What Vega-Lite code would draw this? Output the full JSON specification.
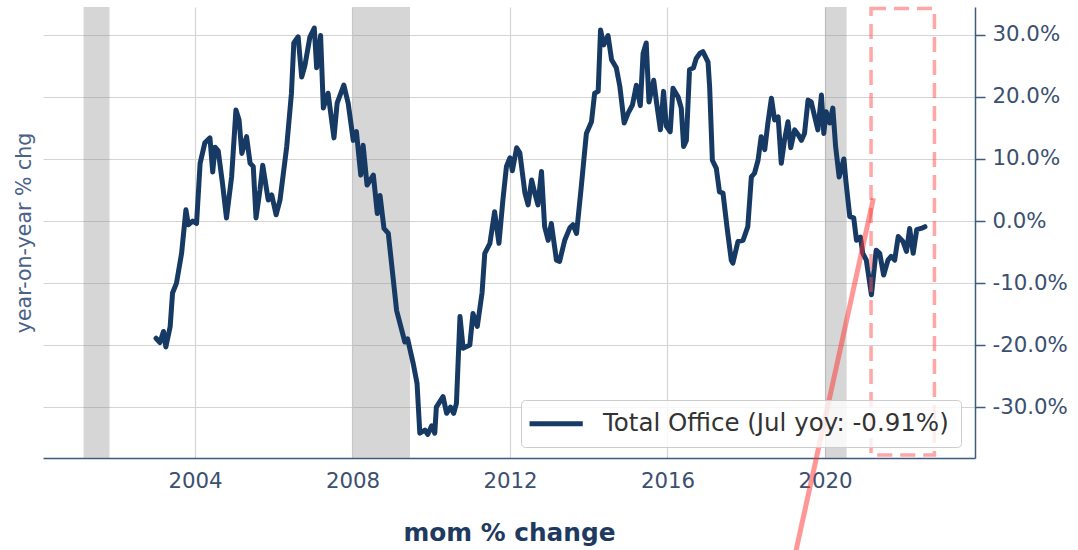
{
  "$schema": "https://vega.github.io/schema/vega-lite/v6.json",
  "width": 932,
  "height": 451,
  "autosize": "none",
  "padding": {"left": 43, "top": 7, "right": 103, "bottom": 92},
  "background": "white",
  "config": {
    "view": {"stroke": null},
    "font": "DejaVu Sans",
    "axisX": {
      "ticks": false,
      "labelPadding": 12, "labelFontSize": 21.3, "labelColor": "#3b5070",
      "domainColor": "#3d5a80", "domainWidth": 1.5,
      "grid": true, "gridColor": "#d4d4d4", "gridWidth": 1.2,
      "titleFontSize": 24.8, "titleFontWeight": "bold",
      "titleColor": "#1f3a60", "titlePadding": 29
    }
  },
  "datasets": {
    "recessions": [
      {"start": 2001.17, "end": 2001.83},
      {"start": 2008.0, "end": 2009.46},
      {"start": 2020.0, "end": 2020.55}
    ],
    "box": [{"x1": 2021.17, "x2": 2022.78, "top": 34.26, "bottom": -37.7}],
    "arrow": [{"x1": 2019.21, "y1": -54.7, "x2": 2021.23, "y2": 3.66}],
    "office": [
      {"year": 2003.01, "yoy": -18.9}, {"year": 2003.11, "yoy": -19.6}, {"year": 2003.2, "yoy": -17.8},
      {"year": 2003.26, "yoy": -20.3}, {"year": 2003.37, "yoy": -17.0}, {"year": 2003.43, "yoy": -11.6},
      {"year": 2003.53, "yoy": -10.0}, {"year": 2003.66, "yoy": -5.2}, {"year": 2003.77, "yoy": 1.8},
      {"year": 2003.83, "yoy": -0.6}, {"year": 2003.94, "yoy": 0.0}, {"year": 2004.04, "yoy": -0.4},
      {"year": 2004.13, "yoy": 9.3}, {"year": 2004.25, "yoy": 12.6}, {"year": 2004.38, "yoy": 13.4},
      {"year": 2004.45, "yoy": 7.9}, {"year": 2004.51, "yoy": 11.9}, {"year": 2004.59, "yoy": 11.3},
      {"year": 2004.7, "yoy": 6.0}, {"year": 2004.8, "yoy": 0.5}, {"year": 2004.93, "yoy": 7.1},
      {"year": 2005.04, "yoy": 17.9}, {"year": 2005.12, "yoy": 16.3}, {"year": 2005.19, "yoy": 10.9},
      {"year": 2005.31, "yoy": 13.6}, {"year": 2005.4, "yoy": 9.3}, {"year": 2005.48, "yoy": 8.8},
      {"year": 2005.55, "yoy": 0.5}, {"year": 2005.65, "yoy": 5.0}, {"year": 2005.72, "yoy": 9.0},
      {"year": 2005.86, "yoy": 3.4}, {"year": 2005.95, "yoy": 4.2}, {"year": 2006.06, "yoy": 1.0},
      {"year": 2006.16, "yoy": 3.4}, {"year": 2006.33, "yoy": 12.0}, {"year": 2006.45, "yoy": 20.6},
      {"year": 2006.51, "yoy": 28.7}, {"year": 2006.62, "yoy": 29.7}, {"year": 2006.71, "yoy": 23.2},
      {"year": 2006.79, "yoy": 25.0}, {"year": 2006.92, "yoy": 29.7}, {"year": 2007.03, "yoy": 31.1},
      {"year": 2007.09, "yoy": 24.7}, {"year": 2007.19, "yoy": 29.9}, {"year": 2007.26, "yoy": 18.2},
      {"year": 2007.38, "yoy": 20.6}, {"year": 2007.53, "yoy": 13.4}, {"year": 2007.61, "yoy": 19.0},
      {"year": 2007.78, "yoy": 21.9}, {"year": 2007.89, "yoy": 19.0}, {"year": 2008.02, "yoy": 13.0},
      {"year": 2008.1, "yoy": 14.4}, {"year": 2008.21, "yoy": 7.4}, {"year": 2008.27, "yoy": 12.2},
      {"year": 2008.37, "yoy": 5.8}, {"year": 2008.53, "yoy": 7.4}, {"year": 2008.63, "yoy": 1.2},
      {"year": 2008.7, "yoy": 4.1}, {"year": 2008.8, "yoy": -1.2}, {"year": 2008.91, "yoy": -2.0},
      {"year": 2009.12, "yoy": -14.4}, {"year": 2009.33, "yoy": -19.5}, {"year": 2009.4, "yoy": -19.0},
      {"year": 2009.54, "yoy": -22.9}, {"year": 2009.64, "yoy": -26.2}, {"year": 2009.71, "yoy": -34.2},
      {"year": 2009.84, "yoy": -33.7}, {"year": 2009.91, "yoy": -34.4}, {"year": 2010.01, "yoy": -33.0},
      {"year": 2010.09, "yoy": -34.2}, {"year": 2010.13, "yoy": -30.0}, {"year": 2010.3, "yoy": -28.3},
      {"year": 2010.39, "yoy": -31.0}, {"year": 2010.49, "yoy": -30.0}, {"year": 2010.57, "yoy": -31.0},
      {"year": 2010.64, "yoy": -29.4}, {"year": 2010.73, "yoy": -15.4}, {"year": 2010.81, "yoy": -20.5},
      {"year": 2010.98, "yoy": -20.0}, {"year": 2011.06, "yoy": -14.9}, {"year": 2011.17, "yoy": -17.0},
      {"year": 2011.29, "yoy": -11.6}, {"year": 2011.36, "yoy": -5.2}, {"year": 2011.49, "yoy": -3.6},
      {"year": 2011.61, "yoy": 1.5}, {"year": 2011.72, "yoy": -3.6}, {"year": 2011.82, "yoy": 3.4},
      {"year": 2011.91, "yoy": 8.8}, {"year": 2012.0, "yoy": 10.2}, {"year": 2012.06, "yoy": 8.1},
      {"year": 2012.17, "yoy": 11.8}, {"year": 2012.25, "yoy": 11.0}, {"year": 2012.38, "yoy": 4.5},
      {"year": 2012.46, "yoy": 2.6}, {"year": 2012.55, "yoy": 6.6}, {"year": 2012.63, "yoy": 4.5},
      {"year": 2012.71, "yoy": 2.6}, {"year": 2012.8, "yoy": 8.0}, {"year": 2012.88, "yoy": -0.9},
      {"year": 2012.97, "yoy": -3.1}, {"year": 2013.05, "yoy": -0.4}, {"year": 2013.18, "yoy": -6.3},
      {"year": 2013.26, "yoy": -6.5}, {"year": 2013.39, "yoy": -3.1}, {"year": 2013.52, "yoy": -1.1},
      {"year": 2013.6, "yoy": -0.6}, {"year": 2013.69, "yoy": -2.0}, {"year": 2013.81, "yoy": 5.5},
      {"year": 2013.94, "yoy": 14.1}, {"year": 2014.07, "yoy": 16.0}, {"year": 2014.15, "yoy": 20.6},
      {"year": 2014.24, "yoy": 20.9}, {"year": 2014.3, "yoy": 30.8}, {"year": 2014.38, "yoy": 28.4},
      {"year": 2014.49, "yoy": 29.9}, {"year": 2014.58, "yoy": 26.0}, {"year": 2014.7, "yoy": 24.7},
      {"year": 2014.79, "yoy": 21.7}, {"year": 2014.9, "yoy": 15.8}, {"year": 2015.0, "yoy": 17.4},
      {"year": 2015.11, "yoy": 18.7}, {"year": 2015.21, "yoy": 21.9}, {"year": 2015.31, "yoy": 18.6},
      {"year": 2015.38, "yoy": 27.0}, {"year": 2015.46, "yoy": 28.7}, {"year": 2015.53, "yoy": 19.2},
      {"year": 2015.65, "yoy": 22.7}, {"year": 2015.72, "yoy": 19.2}, {"year": 2015.82, "yoy": 14.7},
      {"year": 2015.9, "yoy": 20.9}, {"year": 2015.97, "yoy": 15.3}, {"year": 2016.07, "yoy": 14.4},
      {"year": 2016.14, "yoy": 21.4}, {"year": 2016.27, "yoy": 20.0}, {"year": 2016.35, "yoy": 18.2},
      {"year": 2016.41, "yoy": 12.0}, {"year": 2016.48, "yoy": 13.0}, {"year": 2016.56, "yoy": 24.4},
      {"year": 2016.66, "yoy": 24.7}, {"year": 2016.73, "yoy": 26.2}, {"year": 2016.82, "yoy": 27.0},
      {"year": 2016.9, "yoy": 27.3}, {"year": 2017.03, "yoy": 25.6}, {"year": 2017.07, "yoy": 21.7},
      {"year": 2017.14, "yoy": 9.8}, {"year": 2017.24, "yoy": 8.5}, {"year": 2017.32, "yoy": 4.7},
      {"year": 2017.41, "yoy": 4.5}, {"year": 2017.51, "yoy": -0.9}, {"year": 2017.62, "yoy": -6.3},
      {"year": 2017.66, "yoy": -6.8}, {"year": 2017.79, "yoy": -3.3}, {"year": 2017.92, "yoy": -3.1},
      {"year": 2018.04, "yoy": -0.9}, {"year": 2018.13, "yoy": 7.1}, {"year": 2018.21, "yoy": 7.7},
      {"year": 2018.3, "yoy": 9.8}, {"year": 2018.38, "yoy": 13.6}, {"year": 2018.47, "yoy": 11.5},
      {"year": 2018.55, "yoy": 15.8}, {"year": 2018.64, "yoy": 19.8}, {"year": 2018.72, "yoy": 16.3},
      {"year": 2018.81, "yoy": 16.8}, {"year": 2018.89, "yoy": 9.3}, {"year": 2018.97, "yoy": 13.0},
      {"year": 2019.06, "yoy": 16.0}, {"year": 2019.13, "yoy": 11.8}, {"year": 2019.23, "yoy": 14.7},
      {"year": 2019.32, "yoy": 13.9}, {"year": 2019.4, "yoy": 13.0}, {"year": 2019.48, "yoy": 14.1},
      {"year": 2019.57, "yoy": 19.5}, {"year": 2019.65, "yoy": 19.2}, {"year": 2019.74, "yoy": 16.8},
      {"year": 2019.82, "yoy": 14.7}, {"year": 2019.91, "yoy": 20.3}, {"year": 2019.97, "yoy": 14.1},
      {"year": 2020.03, "yoy": 17.6}, {"year": 2020.12, "yoy": 15.8}, {"year": 2020.2, "yoy": 18.2},
      {"year": 2020.27, "yoy": 12.0}, {"year": 2020.36, "yoy": 7.1}, {"year": 2020.48, "yoy": 10.0},
      {"year": 2020.53, "yoy": 6.5}, {"year": 2020.63, "yoy": 0.7}, {"year": 2020.73, "yoy": 0.5},
      {"year": 2020.8, "yoy": -3.1}, {"year": 2020.9, "yoy": -2.6}, {"year": 2020.96, "yoy": -5.2},
      {"year": 2021.05, "yoy": -6.3}, {"year": 2021.18, "yoy": -11.9}, {"year": 2021.3, "yoy": -4.7},
      {"year": 2021.39, "yoy": -5.2}, {"year": 2021.49, "yoy": -8.7}, {"year": 2021.6, "yoy": -6.3},
      {"year": 2021.68, "yoy": -5.7}, {"year": 2021.77, "yoy": -6.3}, {"year": 2021.86, "yoy": -2.5},
      {"year": 2021.98, "yoy": -3.3}, {"year": 2022.07, "yoy": -4.9}, {"year": 2022.15, "yoy": -1.2},
      {"year": 2022.24, "yoy": -5.2}, {"year": 2022.33, "yoy": -1.4}, {"year": 2022.44, "yoy": -1.2},
      {"year": 2022.54, "yoy": -0.91}
    ]
  },
  "layer": [
    {
      "data": {"name": "recessions"},
      "mark": {"type": "rect", "color": "#8c8c8c", "opacity": 0.36},
      "encoding": {
        "x": {"field": "start", "type": "quantitative", "scale": {"domain": [2000.14, 2023.81], "nice": false, "zero": false},
          "axis": {"title": "mom % change", "values": [2004, 2008, 2012, 2016, 2020], "format": "d"}},
        "x2": {"field": "end"}
      }
    },
    {
      "data": {"name": "office"},
      "mark": {"type": "line", "strokeWidth": 5, "strokeJoin": "round", "strokeCap": "round"},
      "encoding": {
        "x": {
          "field": "year", "type": "quantitative",
          "scale": {"domain": [2000.14, 2023.81], "nice": false, "zero": false},
          "axis": {"title": "mom % change", "values": [2004, 2008, 2012, 2016, 2020], "format": "d"}
        },
        "y": {
          "field": "yoy", "type": "quantitative",
          "scale": {"domain": [-38.2, 34.5], "nice": false, "zero": false},
          "axis": {
            "orient": "right", "title": null,
            "values": [-30, -20, -10, 0, 10, 20, 30],
            "labelExpr": "(datum.value < 0 ? '-' : '') + format(abs(datum.value), '.1f') + '%'",
            "tickSize": 10, "tickWidth": 1.5, "tickColor": "#3d5a80",
            "domainColor": "#3d5a80", "domainWidth": 1.5,
            "labelFontSize": 21.3, "labelColor": "#3b5070", "labelPadding": 7,
            "grid": true, "gridColor": "#d4d4d4", "gridWidth": 1.2
          }
        },
        "color": {
          "datum": "Total Office (Jul yoy: -0.91%)", "type": "nominal",
          "scale": {"range": ["#173a64"]},
          "legend": {
            "orient": "none", "legendX": 478, "legendY": 393, "title": null,
            "symbolType": "M-1.6,0H4", "symbolStrokeWidth": 5, "symbolSize": 361,
            "labelFontSize": 24.5, "labelColor": "#333333", "labelFont": "DejaVu Sans",
            "labelOffset": 46, "labelLimit": 600, "padding": 11.5,
            "fillColor": "rgba(255,255,255,0.8)", "strokeColor": "#cccccc", "cornerRadius": 4
          }
        }
      }
    },
    {
      "data": {"name": "box"},
      "mark": {"type": "rect", "filled": false, "stroke": "#ff4d4d", "strokeOpacity": 0.5, "strokeWidth": 3.5, "strokeDash": [15, 8]},
      "encoding": {
        "x": {"field": "x1", "type": "quantitative", "scale": {"domain": [2000.14, 2023.81], "nice": false, "zero": false},
          "axis": {"title": "mom % change", "values": [2004, 2008, 2012, 2016, 2020], "format": "d"}},
        "x2": {"field": "x2"},
        "y": {
          "field": "top", "type": "quantitative",
          "scale": {"domain": [-38.2, 34.5], "nice": false, "zero": false},
          "axis": {
            "orient": "left", "title": "year-on-year % chg", "labels": false, "ticks": false,
            "domain": false, "grid": false, "titleFontSize": 20.5, "titleFontWeight": "normal",
            "titleColor": "#4a6289", "titlePadding": 9
          }
        },
        "y2": {"field": "bottom"}
      }
    },
    {
      "data": {"name": "arrow"},
      "mark": {"type": "rule", "clip": false, "stroke": "#ff3030", "strokeOpacity": 0.5, "strokeWidth": 5},
      "encoding": {
        "x": {"field": "x1", "type": "quantitative", "scale": {"domain": [2000.14, 2023.81], "nice": false, "zero": false},
          "axis": {"title": "mom % change", "values": [2004, 2008, 2012, 2016, 2020], "format": "d"}},
        "x2": {"field": "x2"},
        "y": {"field": "y1", "type": "quantitative", "scale": {"domain": [-38.2, 34.5], "nice": false, "zero": false}, "axis": null},
        "y2": {"field": "y2"}
      }
    }
  ],
  "resolve": {"axis": {"y": "independent"}}
}
